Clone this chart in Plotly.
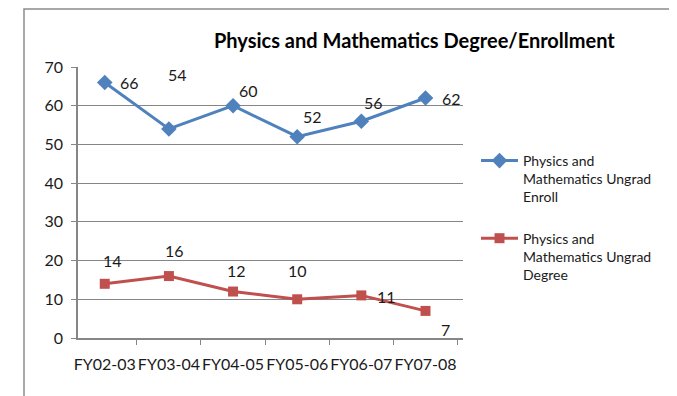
import plotly.graph_objects as go

categories = ["FY02-03", "FY03-04", "FY04-05", "FY05-06", "FY06-07", "FY07-08"]
enroll = [66, 54, 60, 52, 56, 62]
degree = [14, 16, 12, 10, 11, 7]
enroll_name = "Physics and<br>Mathematics Ungrad<br>Enroll"
degree_name = "Physics and<br>Mathematics Ungrad<br>Degree"
title_text = "Physics and Mathematics Degree/Enrollment"

# label offsets (pixels) for data labels, as placed in the reference
enroll_off = [(25, 0), (9, 54), (15, 15), (15, 20), (12, 19), (26, -1)]
degree_off = [(8, 23), (6, 26), (3, 21), (0, 29), (25, -1), (20, -19)]

BLUE = "#4F81BD"
RED = "#C0504D"
FONT = "Lato, 'Open Sans', sans-serif"
TXT = "#1a1a1a"

# the page shifts the figure down by 8px; work in screen pixels and subtract it
OFFX, OFFY = 0, 8
W, H = 677, 396
# plot area in screen pixels: left 70, right 455, top 67, bottom 338
PL, PR, PT, PB = 70 - OFFX, 455 - OFFX, 67 - OFFY, 338 - OFFY


def px(x):
    return (x - OFFX - PL) / (PR - PL)


def py(y):
    return (PB - (y - OFFY)) / (PB - PT)


fig = go.Figure()
fig.add_trace(go.Scatter(
    x=categories, y=enroll, name=enroll_name, mode="lines+markers",
    legendgroup="a",
    line=dict(color=BLUE, width=3),
    marker=dict(symbol="diamond", size=12, color=BLUE),
))
fig.add_trace(go.Scatter(
    x=categories, y=degree, name=degree_name, mode="lines+markers",
    legendgroup="b",
    line=dict(color=RED, width=3),
    marker=dict(symbol="square", size=10, color=RED),
))

annotations = []
for cat, v, (dx, dy) in zip(categories, enroll, enroll_off):
    annotations.append(dict(x=cat, y=v, text=str(v), showarrow=False,
                            xshift=dx, yshift=dy,
                            font=dict(size=16, color=TXT, family=FONT)))
for cat, v, (dx, dy) in zip(categories, degree, degree_off):
    annotations.append(dict(x=cat, y=v, text=str(v), showarrow=False,
                            xshift=dx, yshift=dy,
                            font=dict(size=16, color=TXT, family=FONT)))
annotations.append(dict(xref="paper", yref="paper", x=px(406), y=py(40),
                        text="<b>" + title_text + "</b>", showarrow=False,
                        xanchor="center", yanchor="middle",
                        font=dict(size=20, color="#000000", family=FONT)))

fig.update_layout(
    width=W, height=H,
    margin=dict(l=PL, r=W - PR, t=PT, b=H - PB, autoexpand=False),
    paper_bgcolor="white", plot_bgcolor="white",
    font=dict(family=FONT, size=16, color=TXT),
    showlegend=True,
    legend=dict(x=px(468), y=py(145), xanchor="left", yanchor="top",
                font=dict(size=14, color=TXT, family=FONT), itemwidth=37,
                valign="top", tracegroupgap=20, bgcolor="rgba(0,0,0,0)"),
    annotations=annotations,
    shapes=[dict(type="rect", xref="paper", yref="paper",
                 x0=px(16), x1=px(700),
                 y0=py(420), y1=py(OFFY + 1),
                 line=dict(color="#8c8c8c", width=1.5), layer="below")],
    xaxis=dict(showline=True, linecolor="#868686", linewidth=1.5,
               ticks="outside", ticklen=5, tickcolor="#868686", tickson="boundaries",
               ticklabelstandoff=11, tickangle=0, automargin=False,
               showgrid=False, tickfont=dict(size=16, color=TXT), fixedrange=True),
    yaxis=dict(range=[0, 70], dtick=10, showline=True, linecolor="#868686", linewidth=1.5,
               ticks="outside", ticklen=5, tickcolor="#868686",
               ticklabelstandoff=5, automargin=False,
               showgrid=True, gridcolor="#868686", gridwidth=1,
               zeroline=False, tickfont=dict(size=16, color=TXT), fixedrange=True),
)

fig.write_html("out.html")
